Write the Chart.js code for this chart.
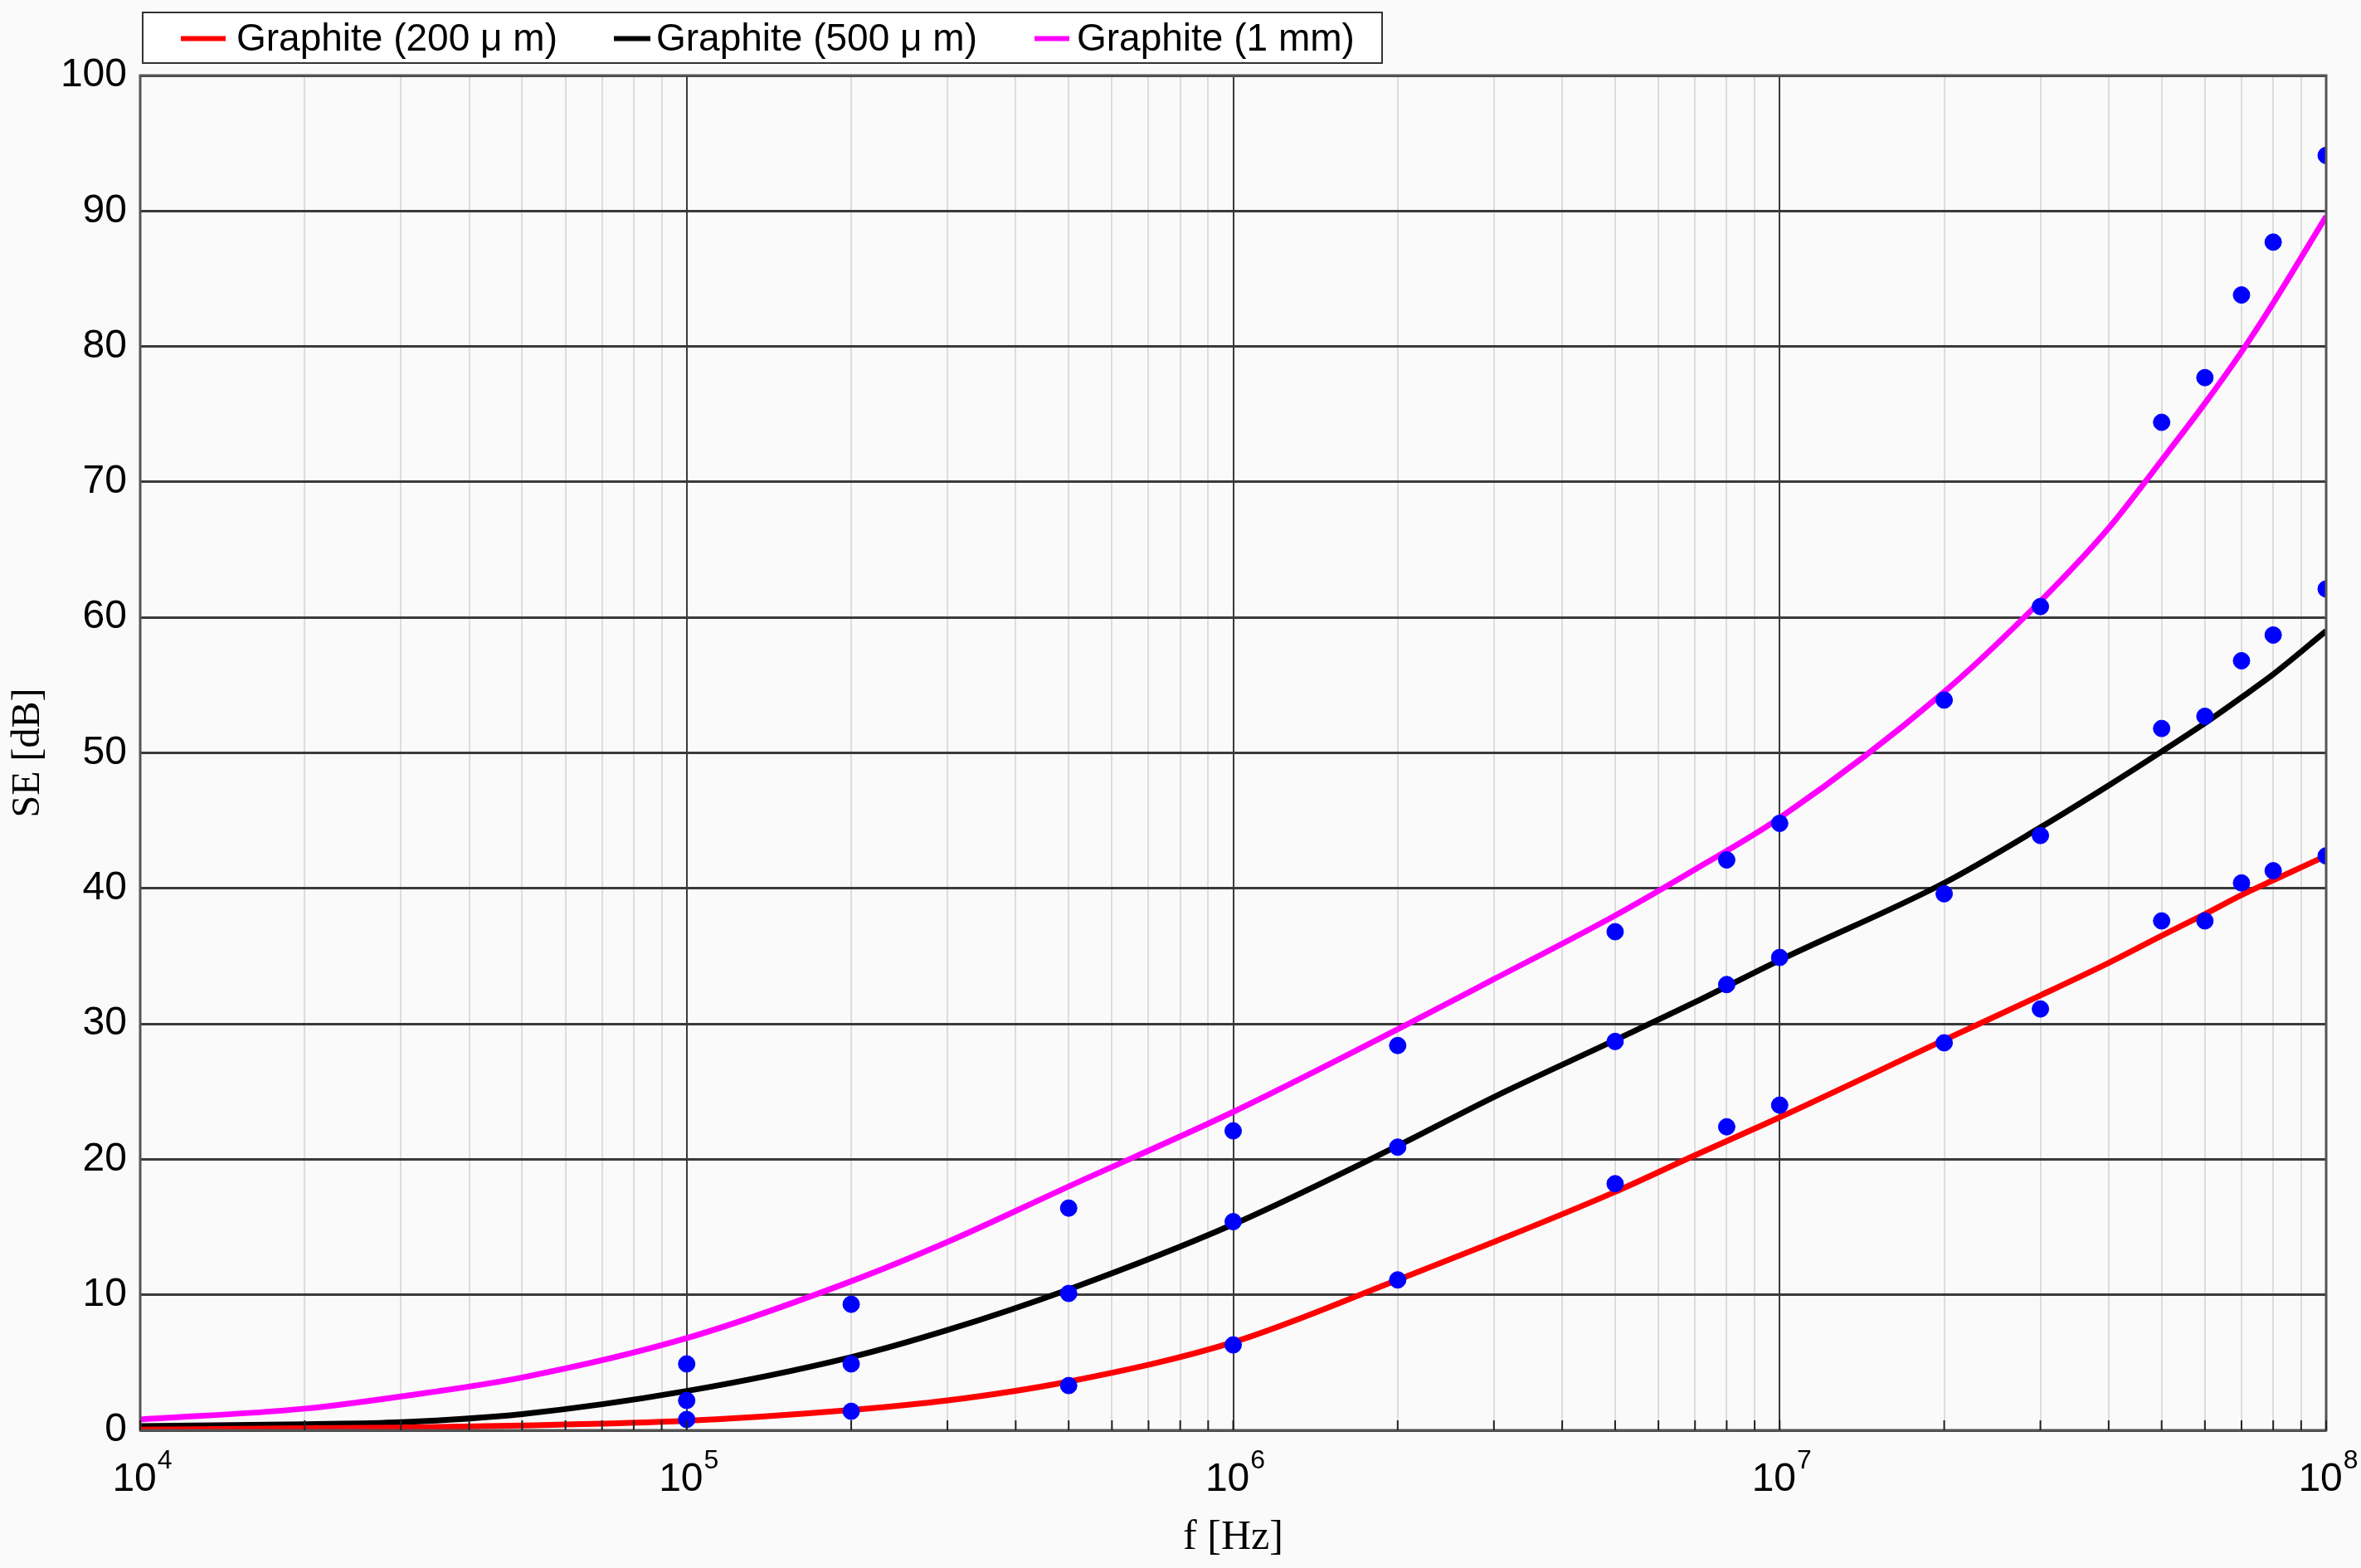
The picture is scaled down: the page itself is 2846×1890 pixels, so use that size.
<!DOCTYPE html>
<html>
<head>
<meta charset="utf-8">
<script src="https://cdn.jsdelivr.net/npm/chart.js@4"></script>
<style>
  html, body { margin: 0; padding: 0; background: #fafafa; }
  #wrap { width: 2846px; height: 1890px; }
</style>
</head>
<body>
<div id="wrap"><canvas id="seChart" width="2846" height="1890"></canvas></div>
<script>
// fitted curves
const curveFreq = [1e4, 2e4, 3e4, 5e4, 1e5, 2e5, 3e5, 5e5, 1e6, 2e6, 3e6, 5e6, 7e6, 1e7, 2e7, 3e7, 4e7, 5e7, 6e7, 7e7, 8e7, 1e8];
const curve200 = [0.05, 0.15, 0.2, 0.35, 0.7, 1.5, 2.2, 3.6, 6.5, 11.1, 13.9, 17.6, 20.3, 23.1, 28.8, 32.1, 34.5, 36.5, 38.1, 39.5, 40.6, 42.4];
const curve500 = [0.3, 0.45, 0.6, 1.2, 2.9, 5.4, 7.4, 10.4, 15.2, 21.0, 24.6, 28.8, 31.6, 34.7, 40.4, 44.5, 47.6, 50.1, 52.2, 54.1, 55.8, 59.0];
const curve1mm = [0.8, 1.6, 2.5, 3.9, 6.8, 11.0, 13.9, 18.0, 23.5, 29.6, 33.3, 38.0, 41.4, 45.2, 54.5, 61.2, 66.6, 71.6, 75.8, 79.6, 83.2, 89.6];

// measured points (blue dots)
const measFreq = [1e5, 2e5, 5e5, 1e6, 2e6, 5e6, 8e6, 1e7, 2e7, 3e7, 5e7, 6e7, 7e7, 8e7, 1e8];
const meas200 = [0.8, 1.4, 3.3, 6.3, 11.1, 18.2, 22.4, 24.0, 28.6, 31.1, 37.6, 37.6, 40.4, 41.3, 42.4];
const meas500 = [2.2, 4.9, 10.1, 15.4, 20.9, 28.7, 32.9, 34.9, 39.6, 43.9, 51.8, 52.7, 56.8, 58.7, 62.1];
const meas1mm = [4.9, 9.3, 16.4, 22.1, 28.4, 36.8, 42.1, 44.8, 53.9, 60.8, 74.4, 77.7, 83.8, 87.7, 94.1];

const seriesNames = ['Graphite (200 \u03bc m)', 'Graphite (500 \u03bc m)', 'Graphite (1 mm)'];
const seriesColors = ['#ff0000', '#000000', '#ff00ff'];

const decades = [4, 5, 6, 7, 8];
const yTicks = [0, 10, 20, 30, 40, 50, 60, 70, 80, 90, 100];

// x tick values: 1..9 per decade
const xTickValues = [];
decades.forEach(e => {
    for (let m = 1; m <= 9; m++) {
        if (e === 8 && m > 1) break;
        xTickValues.push(m * Math.pow(10, e));
    }
});

function toPoints(xs, ys) {
    return xs.map((x, i) => ({ x: x, y: ys[i] }));
}

const measPoints = [].concat(
    toPoints(measFreq, meas200),
    toPoints(measFreq, meas500),
    toPoints(measFreq, meas1mm)
);

const curves = [curve200, curve500, curve1mm];

const datasets = [{
    type: 'scatter',
    label: 'measured',
    data: measPoints,
    backgroundColor: '#0000ff',
    borderColor: '#0000ff',
    pointRadius: 10,
    order: 0
}];
curves.forEach((c, i) => {
    datasets.push({
        type: 'line',
        label: seriesNames[i],
        data: toPoints(curveFreq, c),
        borderColor: seriesColors[i],
        backgroundColor: seriesColors[i],
        borderWidth: 7,
        pointRadius: 0,
        cubicInterpolationMode: 'monotone',
        fill: false,
        order: 1
    });
});

function isDecade(v) {
    const l = Math.log10(v);
    return Math.abs(l - Math.round(l)) < 1e-9;
}

// legend item positions (line start, line end, text start)
const legendLineX = [[218, 272], [740, 784], [1247, 1289]];
const legendTextX = [285, 791, 1298];

// frame, bottom ticks, x labels with superscripts, legend box
const extras = {
    id: 'extras',
    afterDraw(chart) {
        const ctx = chart.ctx;
        const a = chart.chartArea;
        const xs = chart.scales.x;
        ctx.save();

        // plot frame
        ctx.strokeStyle = '#555';
        ctx.lineWidth = 3;
        ctx.strokeRect(a.left, a.top, a.right - a.left, a.bottom - a.top);

        // small tick marks on bottom edge
        ctx.strokeStyle = '#222';
        ctx.lineWidth = 2;
        xTickValues.forEach(v => {
            const px = xs.getPixelForValue(v);
            ctx.beginPath();
            ctx.moveTo(px, a.bottom);
            ctx.lineTo(px, a.bottom - 12);
            ctx.stroke();
        });

        // x labels 10^n
        ctx.fillStyle = '#000';
        ctx.textBaseline = 'alphabetic';
        ctx.textAlign = 'left';
        decades.forEach(e => {
            const px = xs.getPixelForValue(Math.pow(10, e));
            ctx.font = '48px "Liberation Sans", Arial, sans-serif';
            const w1 = ctx.measureText('10').width;
            ctx.font = '32px "Liberation Sans", Arial, sans-serif';
            const w2 = ctx.measureText(String(e)).width;
            const x0 = px - (w1 + w2) / 2 + 2;
            ctx.font = '48px "Liberation Sans", Arial, sans-serif';
            ctx.fillText('10', x0, a.bottom + 73);
            ctx.font = '32px "Liberation Sans", Arial, sans-serif';
            ctx.fillText(String(e), x0 + w1 + 1, a.bottom + 46);
        });

        // legend
        const boxL = 172, boxT = 15, boxW = 1494, boxH = 61;
        ctx.fillStyle = '#ffffff';
        ctx.fillRect(boxL, boxT, boxW, boxH);
        ctx.strokeStyle = '#333';
        ctx.lineWidth = 2;
        ctx.strokeRect(boxL, boxT, boxW, boxH);
        const cy = boxT + boxH / 2 + 1;
        ctx.font = '46px "Liberation Sans", Arial, sans-serif';
        ctx.textBaseline = 'middle';
        chart.data.datasets.forEach(ds => {
            const idx = seriesNames.indexOf(ds.label);
            if (idx < 0) return;
            ctx.strokeStyle = ds.borderColor;
            ctx.lineWidth = 6;
            ctx.beginPath();
            ctx.moveTo(legendLineX[idx][0], cy);
            ctx.lineTo(legendLineX[idx][1], cy);
            ctx.stroke();
            ctx.fillStyle = '#000';
            ctx.fillText(ds.label, legendTextX[idx], cy + 2);
        });
        ctx.restore();
    }
};

const ctx = document.getElementById('seChart').getContext('2d');
new Chart(ctx, {
    data: { datasets: datasets },
    options: {
        responsive: false,
        animation: false,
        devicePixelRatio: 1,
        layout: { padding: { top: 91, right: 42, bottom: 0, left: 0 } },
        plugins: {
            legend: { display: false },
            tooltip: { enabled: false }
        },
        scales: {
            x: {
                type: 'logarithmic',
                min: 1e4,
                max: 1e8,
                afterBuildTicks: (scale) => {
                    scale.ticks = xTickValues.map(v => ({ value: v, major: isDecade(v) }));
                },
                afterFit: (scale) => { scale.height = 166; },
                ticks: {
                    autoSkip: false,
                    maxRotation: 0,
                    callback: () => ''
                },
                grid: {
                    drawTicks: false,
                    lineWidth: 2,
                    color: (c) => (c.tick && isDecade(c.tick.value)) ? '#3a3a3a' : '#dcdcdc'
                },
                border: { display: false },
                title: {
                    display: true,
                    text: 'f [Hz]',
                    color: '#000',
                    font: { family: '"Liberation Serif", "Times New Roman", serif', size: 50 },
                    padding: { top: 0, bottom: 6 }
                }
            },
            y: {
                min: 0,
                max: 100,
                afterBuildTicks: (scale) => {
                    scale.ticks = yTicks.map(v => ({ value: v }));
                },
                afterFit: (scale) => { scale.width = 169; },
                ticks: {
                    color: '#000',
                    padding: 16,
                    font: { family: '"Liberation Sans", Arial, sans-serif', size: 48 }
                },
                grid: {
                    drawTicks: false,
                    lineWidth: 3,
                    color: '#3a3a3a'
                },
                border: { display: false },
                title: {
                    display: true,
                    text: 'SE [dB]',
                    color: '#000',
                    font: { family: '"Liberation Serif", "Times New Roman", serif', size: 48 },
                    padding: { top: 6, bottom: 0 }
                }
            }
        }
    },
    plugins: [extras]
});
</script>
</body>
</html>
